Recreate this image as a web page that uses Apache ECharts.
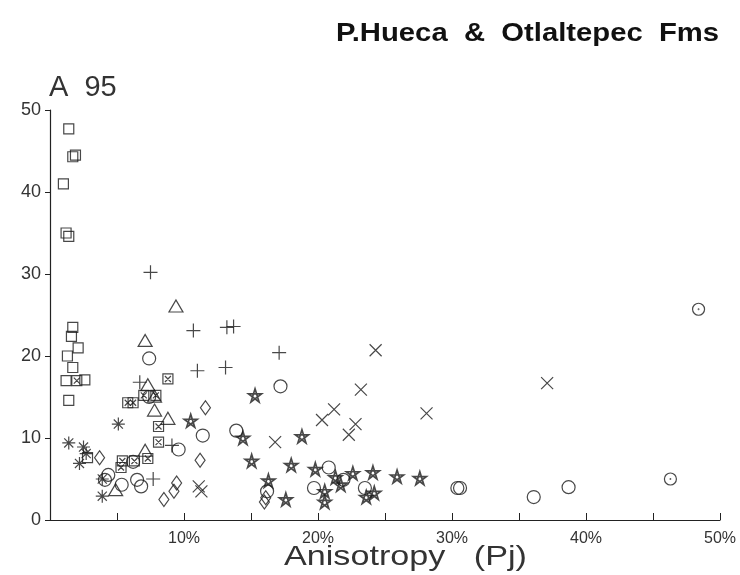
<!DOCTYPE html>
<html lang="en">
<head>
  <meta charset="UTF-8">
  <title>P.Hueca & Otlaltepec Fms</title>
  <script src="https://cdn.jsdelivr.net/npm/echarts@6/dist/echarts.min.js"></script>
</head>
<body style="margin:0;background:#fff">
  <div id="main" style="width:740px;height:575px;"></div>
  <script type="text/javascript">
    // values: [anisotropy Pj (%), A95]
    const squares = [[1.4, 47.7], [1.7, 44.3], [1.9, 44.5], [1.0, 41], [1.2, 35], [1.4, 34.6],
      [1.7, 23.5], [1.6, 22.4], [2.1, 21], [1.3, 20], [1.7, 18.6], [1.2, 17], [2.6, 17.1],
      [1.4, 14.6], [2.8, 7.6]]
    const xSquares = [[2.0, 17], [5.8, 14.3], [6.2, 14.3], [7.0, 15.2], [7.9, 15.2], [8.8, 17.2],
      [8.1, 11.4], [8.1, 9.5], [5.3, 6.4], [5.4, 7.2], [6.3, 7.2], [7.3, 7.5]]
    const triangles = [[9.4, 26.1], [7.1, 21.9], [7.3, 16.5], [7.8, 15.1], [7.8, 13.4],
      [8.8, 12.4], [7.1, 8.5], [4.9, 3.7]]
    const circles = [[7.4, 19.7], [7.4, 15.0], [9.6, 8.6], [11.4, 10.3], [13.9, 10.9],
      [4.35, 5.5], [4.1, 4.9], [5.35, 4.3], [6.5, 4.9], [6.8, 4.1], [6.2, 7.1],
      [17.2, 16.3], [16.2, 3.5], [20.8, 6.4], [19.7, 3.9], [21.9, 4.9], [23.5, 3.9],
      [30.4, 3.9], [30.6, 3.9], [36.1, 2.8], [38.7, 4.0]]
    const dotCircles = [[46.3, 5.0], [48.4, 25.7]]
    const pluses = [[7.5, 30.2], [10.7, 23.1], [13.2, 23.5], [13.7, 23.6], [11.0, 18.2],
      [13.1, 18.6], [17.1, 20.4], [6.7, 16.8], [9.1, 9.1], [7.7, 5.0]]
    const crosses = [[11.1, 4.1], [11.3, 3.5], [16.8, 9.5], [20.3, 12.2], [21.2, 13.5],
      [22.8, 11.7], [22.3, 10.4], [23.2, 15.9], [24.3, 20.7], [28.1, 13.0], [37.1, 16.7]]
    const asterisks = [[1.4, 9.4], [2.5, 8.9], [2.7, 8.1], [2.2, 6.9], [5.1, 11.7],
      [3.9, 5.0], [3.9, 2.9]]
    const diamonds = [[3.7, 7.6], [11.6, 13.7], [11.2, 7.3], [8.5, 2.5], [9.25, 3.5],
      [9.45, 4.5], [16.0, 2.2], [16.1, 2.7]]
    const stars = [[10.5, 12.1], [14.4, 10.0], [15.3, 15.2], [15.05, 7.2], [16.3, 4.8],
      [18.0, 6.7], [17.6, 2.5], [18.8, 10.2], [19.8, 6.2], [20.5, 3.5], [20.5, 2.2],
      [21.3, 5.2], [21.7, 4.3], [22.6, 5.7], [24.1, 5.8], [23.6, 2.8], [24.2, 3.3],
      [25.9, 5.3], [27.6, 5.1]]

    const xLabels = ['10%', '20%', '30%', '40%', '50%']

    // outline symbols
    const sym = {
      square: 'path://M0 0H20V20H0Z',
      xSquare: 'path://M0 0H20V20H0ZM4 4L16 16M16 4L4 16',
      triangle: 'path://M10 0L20 17L0 17Z',
      circle: 'path://M0 10A10 10 0 1 0 20 10A10 10 0 1 0 0 10Z',
      dotCircle: 'path://M0 10A10 10 0 1 0 20 10A10 10 0 1 0 0 10ZM9.5 10A0.5 0.5 0 1 0 10.5 10A0.5 0.5 0 1 0 9.5 10Z',
      plus: 'path://M10 0V20M0 10H20',
      cross: 'path://M0 0L20 20M20 0L0 20',
      asterisk: 'path://M10 0V20M0 10H20M3 3L17 17M17 3L3 17',
      diamond: 'path://M10 0L20 14L10 28L0 14Z',
      star: 'path://M10 0L15.88 18.09L0.49 6.91L19.51 6.91L4.12 18.09Z'
    }

    function series(data, symbol, size, width) {
      return {
        type: 'scatter',
        data: data,
        symbol: symbol,
        symbolSize: size,
        itemStyle: { color: 'none', borderColor: '#1a1a1a', borderWidth: width || 1.2 },
        emphasis: { disabled: true },
        silent: true
      }
    }

    var myChart = echarts.init(document.getElementById('main'))
    const font = "'Liberation Sans', Arial, sans-serif"
    myChart.setOption({
      animation: false,
      grid: { left: 50, right: 20, top: 110, bottom: 55 },
      xAxis: {
        type: 'value', min: 0, max: 50, interval: 5,
        axisLine: { lineStyle: { color: '#222', width: 1.2 } },
        axisTick: { inside: true, length: 7, lineStyle: { color: '#222' } },
        splitLine: { show: false },
        axisLabel: {
          margin: 11, color: '#333', fontSize: 16, fontFamily: font,
          formatter: v => (v > 0 && v % 10 === 0) ? xLabels[v / 10 - 1] : ''
        }
      },
      yAxis: {
        type: 'value', min: 0, max: 50, interval: 10,
        axisLine: { show: true, lineStyle: { color: '#222', width: 1.2 } },
        axisTick: { show: true, length: 5, lineStyle: { color: '#222' } },
        splitLine: { show: false },
        axisLabel: { margin: 9, color: '#333', fontSize: 18, fontFamily: font }
      },
      graphic: [
        {
          type: 'text', x: 336, y: 22, scaleX: 1.17,
          style: { text: 'P.Hueca  &  Otlaltepec  Fms', font: 'bold 25px ' + font, fill: '#111' }
        },
        {
          type: 'text', left: 49, top: 73,
          style: { text: 'A  95', font: '29px ' + font, fill: '#333' }
        },
        {
          type: 'text', x: 284, y: 543, scaleX: 1.22,
          style: { text: 'Anisotropy   (Pj)', font: '28px ' + font, fill: '#333' }
        }
      ],
      series: [
        series(squares, sym.square, 10),
        series(xSquares, sym.xSquare, 10),
        series(triangles, sym.triangle, [14, 12]),
        series(circles, sym.circle, 13),
        series(dotCircles, sym.dotCircle, 12),
        series(pluses, sym.plus, 14),
        series(crosses, sym.cross, 12),
        series(asterisks, sym.asterisk, 13),
        series(diamonds, sym.diamond, [10, 14]),
        series(stars, sym.star, 13, 1.7)
      ]
    })
  </script>
</body>
</html>
